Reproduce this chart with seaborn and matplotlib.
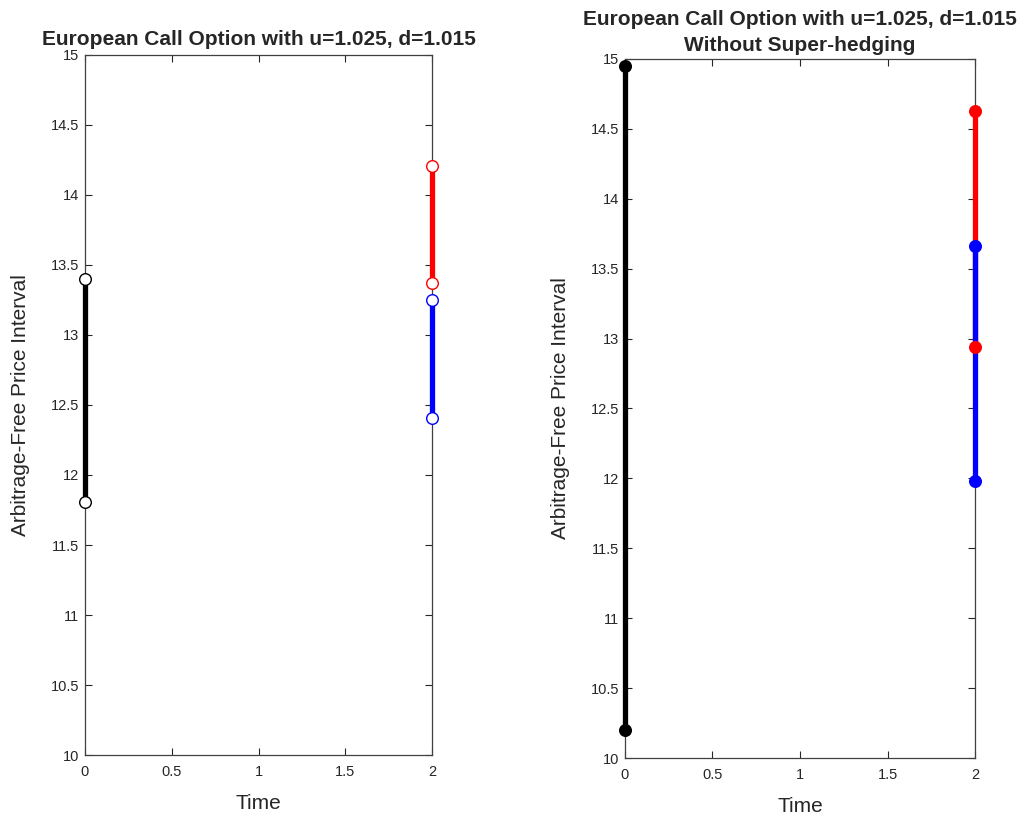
import numpy as np
import pandas as pd
import seaborn as sns
import matplotlib.pyplot as plt

# price intervals (time, low, high)
left_times = [0, 2, 2]
left_low = [11.81, 13.37, 12.41]
left_high = [13.40, 14.21, 13.25]
left_colors = ['black', 'red', 'blue']

right_times = [0, 2, 2]
right_low = [10.20, 12.94, 11.98]
right_high = [14.95, 14.63, 13.66]
right_colors = ['black', 'red', 'blue']

title_left = 'European Call Option with u=1.025, d=1.015'
title_right = 'European Call Option with u=1.025, d=1.015\nWithout Super-hedging'

sns.set_style('white')
plt.rcParams['font.family'] = ['Liberation Sans', 'DejaVu Sans']

fig = plt.figure(figsize=(10.34, 8.18), dpi=100)
ax1 = fig.add_axes([0.0822, 0.077, 0.3356, 0.8558])
ax2 = fig.add_axes([0.6044, 0.0733, 0.3386, 0.8547])


def draw(ax, times, low, high, colors, filled):
    for t, lo, hi, c in zip(times, low, high, colors):
        seg = pd.DataFrame({'t': [t, t], 'p': [lo, hi]})
        sns.lineplot(data=seg, x='t', y='p', color=c, linewidth=3.8,
                     estimator=None, sort=False, clip_on=False, zorder=3,
                     ax=ax)
    for t, lo, hi, c in zip(times, low, high, colors):
        pts = pd.DataFrame({'t': [t, t], 'p': [lo, hi]})
        sns.scatterplot(data=pts, x='t', y='p', s=70, zorder=5, ax=ax,
                        color=c if filled else 'white',
                        edgecolor=c, linewidth=1.0, clip_on=False)


draw(ax1, left_times, left_low, left_high, left_colors, filled=False)
draw(ax2, right_times, right_low, right_high, right_colors, filled=True)

for ax in [ax1, ax2]:
    ax.set_xlim(0, 2)
    ax.set_ylim(10, 15)
    ax.set_xticks(np.arange(0, 2.01, 0.5))
    ax.set_xticklabels(['0', '0.5', '1', '1.5', '2'])
    ax.set_yticks(np.arange(10, 15.01, 0.5))
    ax.set_yticklabels(['10', '10.5', '11', '11.5', '12', '12.5', '13',
                        '13.5', '14', '14.5', '15'])
    ax.tick_params(direction='in', top=True, right=True, bottom=True,
                   left=True, length=5, width=0.8, labelsize=10.5,
                   colors='#262626')
    ax.tick_params(axis='x', pad=7)
    ax.tick_params(axis='y', pad=4)
    for sp in ax.spines.values():
        sp.set_color('#404040')
        sp.set_linewidth(0.9)
    ax.set_xlabel('Time', fontsize=15, labelpad=11)
    ax.set_ylabel('Arbitrage-Free Price Interval', fontsize=15, labelpad=15)

ax1.set_title(title_left, fontsize=15, fontweight='bold', pad=7)
ax2.set_title(title_right, fontsize=15, fontweight='bold', pad=6,
              linespacing=1.45)

fig.savefig('out.png', dpi=100)
